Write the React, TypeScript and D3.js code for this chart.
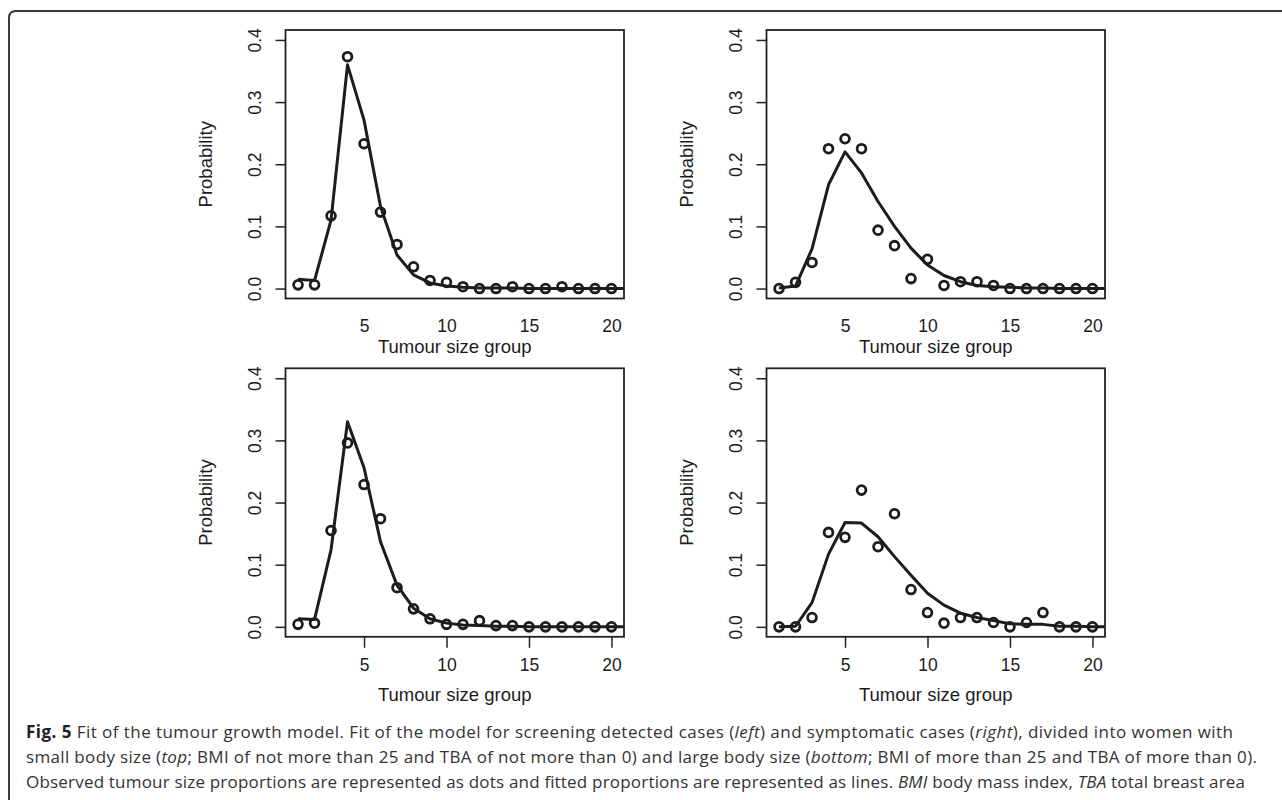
import React, { useEffect, useRef } from 'react';
import * as d3 from 'd3';

// tumour size groups (observed) and the fitted curve, which runs one group past the axis
const sizeGroups = [1, 2, 3, 4, 5, 6, 7, 8, 9, 10, 11, 12, 13, 14, 15, 16, 17, 18, 19, 20];
const fitGroups = [1, 2, 3, 4, 5, 6, 7, 8, 9, 10, 11, 12, 13, 14, 15, 16, 17, 18, 19, 20, 21];
const xTicks = [5, 10, 15, 20];
const yTicks = [0, 0.1, 0.2, 0.3, 0.4];

// screening detected, small body size
const obsScreenSmall = [0.006, 0.006, 0.117, 0.373, 0.233, 0.123, 0.071, 0.035, 0.013, 0.010, 0.003, 0, 0, 0.003, 0, 0, 0.003, 0, 0, 0];
const fitScreenSmall = [0.015, 0.013, 0.110, 0.360, 0.271, 0.132, 0.054, 0.022, 0.009, 0.004, 0.002, 0.001, 0.001, 0.001, 0, 0, 0, 0, 0, 0, 0];
// symptomatic, small body size
const obsSymptSmall = [0, 0.010, 0.042, 0.225, 0.241, 0.225, 0.094, 0.069, 0.016, 0.047, 0.005, 0.011, 0.011, 0.005, 0, 0, 0, 0, 0, 0];
const fitSymptSmall = [0.001, 0.004, 0.064, 0.167, 0.220, 0.186, 0.140, 0.100, 0.065, 0.038, 0.021, 0.011, 0.005, 0.003, 0.002, 0.001, 0.001, 0, 0, 0, 0];
// screening detected, large body size
const obsScreenLarge = [0.004, 0.006, 0.155, 0.296, 0.229, 0.174, 0.063, 0.029, 0.013, 0.004, 0.004, 0.010, 0.002, 0.002, 0, 0, 0, 0, 0, 0];
const fitScreenLarge = [0.013, 0.012, 0.124, 0.330, 0.256, 0.137, 0.067, 0.030, 0.013, 0.006, 0.003, 0.002, 0.001, 0.001, 0, 0, 0, 0, 0, 0, 0];
// symptomatic, large body size
const obsSymptLarge = [0, 0, 0.015, 0.152, 0.144, 0.220, 0.129, 0.182, 0.060, 0.023, 0.006, 0.015, 0.015, 0.007, 0, 0.007, 0.023, 0, 0, 0];
const fitSymptLarge = [0, 0.001, 0.039, 0.117, 0.168, 0.167, 0.145, 0.113, 0.083, 0.054, 0.035, 0.022, 0.015, 0.010, 0.005, 0.004, 0.004, 0.001, 0.001, 0, 0];

const xLabel = 'Tumour size group';
const yLabel = 'Probability';

const captionLines: [string, string][][] = [
  [
    ['Fig. 5', 'bold'],
    [' Fit of the tumour growth model. Fit of the model for screening detected cases (', ''],
    ['left', 'italic'],
    [') and symptomatic cases (', ''],
    ['right', 'italic'],
    ['), divided into women with', ''],
  ],
  [
    ['small body size (', ''],
    ['top', 'italic'],
    ['; BMI of not more than 25 and TBA of not more than 0) and large body size (', ''],
    ['bottom', 'italic'],
    ['; BMI of more than 25 and TBA of more than 0).', ''],
  ],
  [
    ['Observed tumour size proportions are represented as dots and fitted proportions are represented as lines. ', ''],
    ['BMI', 'italic'],
    [' body mass index, ', ''],
    ['TBA', 'italic'],
    [' total breast area', ''],
  ],
];

const panels = [
  { obs: obsScreenSmall, fit: fitScreenSmall, col: 0, row: 0 },
  { obs: obsSymptSmall, fit: fitSymptSmall, col: 1, row: 0 },
  { obs: obsScreenLarge, fit: fitScreenLarge, col: 0, row: 1 },
  { obs: obsSymptLarge, fit: fitSymptLarge, col: 1, row: 1 },
];

const W = 1282;
const H = 800;

const App = () => {
  const svgRef = useRef<SVGSVGElement>(null);

  useEffect(() => {
    const svg = d3.select(svgRef.current);
    svg.selectAll('*').remove();

    const ink = '#1c1c1c';
    const plotW = 338.5;
    const plotH = 268.5;
    const left0 = 285.5;
    const top0 = 30;
    const colStep = 481;
    const rowStep = 338.3;

    // figure frame (open on the right and bottom)
    svg.append('path')
      .attr('d', `M${W},11 H16 Q9,11 9,18 V${H}`)
      .attr('fill', 'none')
      .attr('stroke', '#3a3a3a')
      .attr('stroke-width', 2);

    // R style: 4% padding around the data range
    const x = d3.scaleLinear().domain([0.24, 20.76]).range([0, plotW]);
    const y = d3.scaleLinear().domain([-0.016, 0.416]).range([plotH, 0]);

    const line = d3.line<number>()
      .x((d, i) => x(fitGroups[i]))
      .y(d => y(d));

    panels.forEach((p, k) => {
      const g = svg.append('g')
        .attr('transform', `translate(${left0 + p.col * colStep},${top0 + p.row * rowStep})`)
        .style('font-family', '"Liberation Sans", Arial, sans-serif')
        .attr('fill', ink);

      const clipId = `clip-${k}`;
      g.append('clipPath').attr('id', clipId)
        .append('rect').attr('width', plotW).attr('height', plotH);

      // fitted proportions
      g.append('path')
        .datum(p.fit)
        .attr('clip-path', `url(#${clipId})`)
        .attr('d', line)
        .attr('fill', 'none')
        .attr('stroke', ink)
        .attr('stroke-width', 3)
        .attr('stroke-linejoin', 'round');

      // observed proportions
      g.selectAll('circle.obs')
        .data(p.obs)
        .join('circle')
        .attr('class', 'obs')
        .attr('cx', (d, i) => x(sizeGroups[i]))
        .attr('cy', d => y(d))
        .attr('r', 4.4)
        .attr('fill', 'none')
        .attr('stroke', ink)
        .attr('stroke-width', 2.8);

      g.append('rect')
        .attr('width', plotW)
        .attr('height', plotH)
        .attr('fill', 'none')
        .attr('stroke', '#222')
        .attr('stroke-width', 1.8);

      // y axis, labels rotated like R's las = 0
      const ya = g.append('g')
        .call(d3.axisLeft(y).tickValues(yTicks).tickSize(10).tickFormat(d3.format('.1f')));
      ya.select('.domain').remove();
      ya.selectAll('line').attr('stroke', '#222').attr('stroke-width', 1.5);
      ya.selectAll('text')
        .attr('x', null)
        .attr('dy', null)
        .attr('transform', 'translate(-24.5,0) rotate(-90)')
        .attr('text-anchor', 'middle')
        .attr('fill', ink)
        .style('font-size', '17.5px');

      // x axis: the top row shows no tick marks in the figure
      const bottomRow = p.row === 1;
      const xa = g.append('g')
        .attr('transform', `translate(0,${plotH})`)
        .call(d3.axisBottom(x).tickValues(xTicks).tickSize(bottomRow ? 11 : 0).tickPadding(0));
      xa.select('.domain').remove();
      xa.selectAll('line').attr('stroke', '#222').attr('stroke-width', 1.5);
      xa.selectAll('text')
        .attr('y', bottomRow ? 34.5 : 33)
        .attr('dy', null)
        .attr('fill', ink)
        .style('font-size', '17.5px');

      g.append('text')
        .attr('x', plotW / 2)
        .attr('y', plotH + (bottomRow ? 64 : 54))
        .attr('text-anchor', 'middle')
        .style('font-size', '18.5px')
        .text(xLabel);

      g.append('text')
        .attr('transform', `translate(-73.5,${plotH / 2}) rotate(-90)`)
        .attr('text-anchor', 'middle')
        .style('font-size', '18.5px')
        .text(yLabel);
    });

    // caption
    const capWidths = [1207, 1231, 1219];
    const cap = svg.append('g')
      .style('font-family', '"Open Sans", "Noto Sans", sans-serif')
      .style('font-size', '17px')
      .attr('fill', '#333');
    captionLines.forEach((segs, i) => {
      const t = cap.append('text')
        .attr('x', 26)
        .attr('y', 738 + i * 25)
        .attr('textLength', capWidths[i])
        .attr('lengthAdjust', 'spacing');
      segs.forEach(([s, st]) => {
        t.append('tspan')
          .attr('font-weight', st === 'bold' ? 700 : null)
          .attr('font-style', st === 'italic' ? 'italic' : null)
          .attr('fill', st === 'bold' ? '#222' : null)
          .text(s);
      });
    });
  }, []);

  return (
    <svg
      ref={svgRef}
      width={W}
      height={H}
      style={{ position: 'absolute', left: 0, top: 0, background: '#fff' }}
    />
  );
};

export default App;
